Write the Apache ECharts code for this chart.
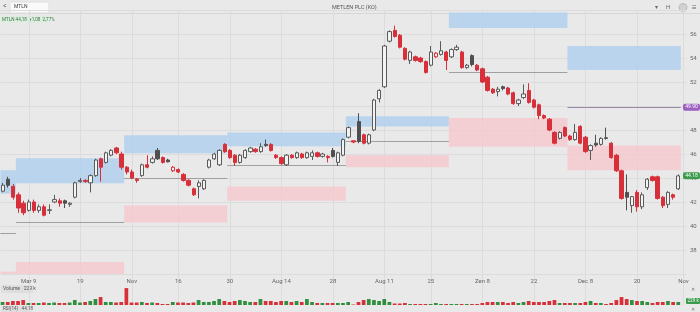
<!DOCTYPE html>
<html><head><meta charset="utf-8">
<script src="https://cdn.jsdelivr.net/npm/echarts@6/dist/echarts.min.js"></script>
<style>html,body{margin:0;padding:0;background:#e9e9e9}#c{width:700px;height:312px}</style>
</head><body><div id="c"></div>
<script>
const opens  = [42.9,43.9,43.3,42.6,41.9,41.3,42.0,41.3,41.6,41.3,42.0,42.1,42.1,41.8,42.4,43.7,43.8,43.6,44.2,45.6,45.3,45.9,46.5,46.0,44.9,44.5,43.9,44.2,45.1,45.3,46.3,45.7,45.5,44.6,44.7,44.3,43.8,43.1,43.3,43.1,44.9,45.6,45.1,46.8,46.3,45.9,45.3,45.7,46.2,46.4,46.2,46.8,46.8,45.9,45.7,45.1,45.9,45.7,46.0,45.7,45.8,46.1,45.8,45.8,46.3,45.3,45.9,47.4,47.1,48.7,47.6,46.9,48.0,50.6,51.6,55.4,56.3,55.9,54.8,53.8,54.1,54.0,53.7,53.4,54.1,54.3,54.5,54.1,54.7,54.5,53.2,54.2,53.4,53.1,52.4,51.4,51.2,51.6,51.5,51.1,50.2,50.7,51.3,50.5,50.1,49.2,48.9,47.8,47.3,48.2,47.5,47.2,48.3,47.4,46.3,46.9,46.8,47.35,46.9,45.9,44.6,42.8,41.7,42.8,41.6,43.2,44.1,44.1,42.4,41.8,42.6,43.1];
const closes = [43.4,43.4,42.4,41.5,41.1,42.0,41.3,41.6,40.9,41.35,42.2,41.9,41.9,41.9,43.6,43.8,43.7,44.2,45.5,44.9,46.1,46.3,46.1,44.9,44.5,44.0,43.8,45.1,44.9,45.6,45.6,45.3,45.35,44.9,44.5,43.8,43.4,42.6,43.6,43.8,45.5,46.0,46.3,46.2,45.7,45.3,45.9,46.3,46.5,46.2,46.6,46.7,46.3,45.7,45.2,45.9,45.7,46.1,45.7,46.1,46.1,45.8,46.0,45.7,45.8,46.1,47.2,48.2,47.0,47.05,46.9,47.6,50.5,51.3,55.0,56.2,55.8,54.9,53.9,54.5,53.8,53.7,52.8,54.5,54.4,54.6,53.8,54.7,54.9,53.2,53.4,53.45,53.0,52.0,51.3,51.1,51.4,51.45,51.0,50.2,50.5,51.0,50.3,49.9,49.2,49.0,48.0,46.9,47.8,47.5,47.2,47.8,46.9,46.2,46.7,46.75,47.3,47.3,45.7,44.6,42.3,42.4,42.45,41.6,42.6,43.9,43.8,42.3,41.7,42.8,42.4,44.18];
const highs  = [43.6,44.1,43.5,42.8,42.1,42.2,42.2,41.8,41.8,41.8,42.6,42.3,42.2,42.0,43.7,44.0,43.9,44.3,45.6,45.7,46.2,46.4,46.6,46.2,45.0,44.7,44.0,45.2,45.9,45.8,46.5,45.8,45.6,45.0,44.8,44.4,43.9,43.2,43.8,43.9,45.6,46.1,46.4,46.9,46.4,46.0,46.0,46.4,46.6,46.5,46.9,47.2,46.9,46.0,45.8,46.0,46.0,46.2,46.1,46.2,46.3,46.2,46.1,45.9,46.5,46.2,47.3,48.3,47.1,49.4,47.7,47.7,50.6,51.4,55.1,56.3,56.7,56.0,54.9,54.6,54.2,54.1,53.8,55.0,54.5,55.4,54.6,54.8,55.1,54.6,53.5,54.3,53.5,53.2,52.5,51.5,51.6,51.7,51.6,51.2,50.6,51.8,51.9,50.6,50.2,49.3,49.0,47.9,47.9,48.3,47.6,48.5,48.4,47.5,46.8,47.6,47.4,48.2,47.0,46.0,44.7,44.3,42.5,43.0,42.8,44.0,44.2,44.2,42.5,42.9,42.7,44.3];
const lows   = [42.8,43.2,42.2,41.1,40.9,41.2,41.1,41.1,40.8,41.0,41.9,41.6,41.5,41.6,42.3,43.6,43.6,42.8,44.1,43.7,45.2,45.8,46.0,44.7,44.3,43.9,43.6,44.1,44.8,45.2,45.5,45.2,45.3,44.5,44.4,43.7,43.3,42.5,42.3,43.0,44.8,45.5,45.0,46.1,45.6,45.0,45.2,45.6,46.1,46.1,46.1,46.6,46.2,45.6,45.1,45.0,45.6,45.6,45.6,45.6,45.5,45.7,45.7,45.3,45.7,45.0,45.8,47.3,46.9,46.9,46.8,46.8,47.9,50.3,51.5,55.3,55.7,54.8,53.8,53.5,53.7,53.6,52.7,53.3,54.0,54.2,53.0,54.0,54.6,53.1,53.1,53.3,52.9,51.9,51.2,51.0,50.8,51.3,50.9,50.1,50.0,50.6,50.2,49.8,48.9,48.9,47.9,46.8,47.2,47.4,47.1,47.1,46.8,46.1,45.5,46.6,46.7,47.2,45.6,44.5,42.2,41.3,41.1,41.2,41.4,43.0,43.7,42.2,41.5,41.5,42.2,43.0];
const volumesK = [228,228,304,304,380,152,152,152,190,152,190,152,152,190,380,190,228,304,456,608,228,228,190,228,1292,190,190,228,152,190,152,76,76,228,190,190,152,190,380,228,228,304,456,304,228,304,380,304,228,228,456,304,304,228,304,304,228,304,228,456,228,152,152,152,152,152,152,228,38,228,380,456,380,304,456,228,114,114,152,76,76,76,76,76,152,76,76,76,76,76,76,76,76,152,228,228,228,228,152,228,152,228,304,228,228,228,304,380,152,152,152,152,152,228,304,152,152,76,152,380,608,456,380,304,304,228,152,228,228,304,228,229];
const tickIndex  = [5,15,25,34,44,54,64,74,83,93,103,113,123,132];
const tickLabels = ['Mar 9','19','Nov','16','30','Aug 14','28','Aug 11','25','Zen 8','22','Dec 8','20','Nov'];
// zones: [startIdx, endIdx, low, high]
const blueZones = [[0,2,42.7,44.65],[3,23,43.56,45.65],[24,43,46.07,47.57],[44,66,46.65,47.8],[67,86,48.3,49.15],[87,109,56.5,57.8],[110,131,53.0,55.0]];
const redZones  = [[0,2,35.9,36.2],[3,23,35.9,37.0],[24,43,40.3,41.7],[44,66,42.1,43.3],[67,86,44.9,45.9],[87,109,46.6,49.0],[110,131,44.65,46.7]];
const levels    = [[0,2,39.4],[3,23,40.3],[24,43,44.0],[44,66,45.07],[67,86,47.1],[87,109,52.8]];
const pivotLevel = [110,131,49.9];
const nCats = 133;

const RED='#d7303a', DARK='#4f4f4f', HOLLOW='#f3f3f3', GRAY='#5a5a5a', GREEN='#2f8f3f';
const categories = Array.from({length:nCats},(_,i)=>{const k=tickIndex.indexOf(i);return k>=0?tickLabels[k]:'';});

const candleData = opens.map((o,i)=>{
  const c=closes[i], pc=i>0?closes[i-1]:o, down=c<pc;
  let fill,border;
  if(c>=o){fill=HOLLOW;border=down?RED:GRAY;} else {fill=down?RED:DARK;border=fill;}
  return {value:[o,c,lows[i],highs[i]],itemStyle:{color:fill,color0:fill,borderColor:border,borderColor0:border,borderWidth:1}};
});
const volData = volumesK.map((v,i)=>({value:v,itemStyle:{color:closes[i]>=opens[i]?GREEN:RED}}));
const last = closes[closes.length-1];

function zoneSeries(data,color){
  return {type:'custom',xAxisIndex:0,yAxisIndex:0,clip:true,silent:true,z:1,data:data,
    renderItem:(params,api)=>{
      const p1=api.coord([api.value(0),api.value(3)]),p2=api.coord([api.value(1),api.value(2)]);
      const bw=api.size([1,0])[0];
      return {type:'rect',shape:{x:p1[0]-bw/2,y:p1[1],width:p2[0]-p1[0]+bw,height:p2[1]-p1[1]},style:{fill:color}};
    }};
}
function levelSeries(data,color){
  return {type:'custom',xAxisIndex:0,yAxisIndex:0,clip:true,silent:true,z:2,data:data,
    renderItem:(params,api)=>{
      const p1=api.coord([api.value(0),api.value(2)]),p2=api.coord([api.value(1),api.value(2)]);
      const bw=api.size([1,0])[0];
      return {type:'line',shape:{x1:p1[0]-bw/2,y1:Math.round(p1[1])+0.5,x2:p2[0]+bw/2,y2:Math.round(p2[1])+0.5},style:{stroke:color,lineWidth:1}};
    }};
}
function priceTag(value,bg){
  return {type:'custom',xAxisIndex:0,yAxisIndex:0,silent:true,z:10,data:[[0,value]],
    renderItem:(params,api)=>{
      const y=api.coord([0,api.value(1)])[1], cs=params.coordSys;
      return {type:'group',children:[
        {type:'rect',shape:{x:cs.x+cs.width-3,y:y-3.5,width:17,height:7,r:2},style:{fill:bg}},
        {type:'text',style:{x:cs.x+cs.width+5.5,y:y,text:api.value(1).toFixed(2),fill:'#fff',fontSize:5,fontFamily:FONT,align:'center',verticalAlign:'middle'}}
      ]};
    }};
}

const chart = echarts.init(document.getElementById('c'),null,{renderer:'canvas'});
const FONT='Roboto';
chart.setOption({
  animation:false,
  backgroundColor:'#e9e9e9',
  textStyle:{fontFamily:FONT},
  grid:[{left:0,top:10,width:686,height:264},{left:0,top:288,width:686,height:17}],
  xAxis:[
    {type:'category',gridIndex:0,data:categories,boundaryGap:true,axisLine:{show:false},axisTick:{show:false},
     axisLabel:{interval:0,fontSize:6,color:'#666',margin:4},splitLine:{show:false}},
    {type:'category',gridIndex:1,data:categories,boundaryGap:true,axisLine:{show:false},axisTick:{show:false},axisLabel:{show:false},splitLine:{show:false}}
  ],
  yAxis:[
    {type:'value',gridIndex:0,position:'right',min:36,max:58,interval:2,axisLine:{show:false},axisTick:{show:false},
     axisLabel:{fontSize:6,color:'#666',margin:4,showMinLabel:false,showMaxLabel:false},
     splitLine:{lineStyle:{color:'#dcdcdc',width:1}}},
    {type:'value',gridIndex:1,min:0,max:1300,show:false}
  ],
  series:[
    {type:'custom',xAxisIndex:0,yAxisIndex:0,silent:true,z:0,data:tickIndex.map(i=>[i,40]),
     renderItem:(params,api)=>{
       const x=Math.round(api.coord([api.value(0),40])[0])+0.5, cs=params.coordSys;
       return {type:'line',shape:{x1:x,y1:cs.y,x2:x,y2:cs.y+cs.height+31},style:{stroke:'#dcdcdc',lineWidth:1}};
     }},
    zoneSeries(blueZones,'rgba(178,208,238,0.85)'),
    zoneSeries(redZones,'rgba(245,200,205,0.8)'),
    levelSeries(levels,'#a0a0a0'),
    levelSeries([pivotLevel],'#9a86a6'),
    {type:'candlestick',xAxisIndex:0,yAxisIndex:0,z:5,barWidth:3.8,data:candleData},
    priceTag(last,'#3c9a4c'),
    priceTag(pivotLevel[2],'#9c5fc2'),
    {type:'bar',xAxisIndex:1,yAxisIndex:1,barWidth:'72%',data:volData}
  ],
  graphic:[
    {type:'line',shape:{x1:0,y1:13.5,x2:700,y2:13.5},style:{stroke:'#d6d6d6'},silent:true},
    {type:'text',left:3,top:3,style:{text:'<',fontSize:7,fill:'#666',fontFamily:FONT}},
    {type:'rect',shape:{x:10,y:2,width:39,height:11,r:1},style:{fill:'#fafafa',stroke:'#dedede'}},
    {type:'text',left:14,top:4.5,style:{text:'MTLN',fontSize:5,fill:'#444',fontFamily:FONT}},
    {type:'text',left:332,top:5,style:{text:'METLEN PLC (KO)',fontSize:5.5,fill:'#555',fontFamily:FONT}},
    {type:'text',left:655,top:4,style:{text:'▾',fontSize:6,fill:'#666'}},
    {type:'text',left:666,top:4,style:{text:'H',fontSize:6,fill:'#666',fontFamily:FONT}},
    {type:'circle',shape:{cx:683,cy:7.5,r:4},style:{fill:'#d2d2d2',stroke:'#bbb'}},
    {type:'text',left:692,top:3.5,style:{text:'≡',fontSize:8,fill:'#666'}},
    {type:'rect',shape:{x:1,y:16,width:50,height:7},style:{fill:'#e0ece2'}},
    {type:'text',left:2,top:17,style:{text:'MTLN 44,18  +1,08  2,77%',fontSize:4.6,fill:'#2f7f3f',fontFamily:FONT}},
    {type:'rect',shape:{x:1,y:285,width:32,height:8},style:{fill:'#dedede'}},
    {type:'text',left:3,top:286.5,style:{text:'Volume   '+volumesK[volumesK.length-1]+' k',fontSize:5,fill:'#555',fontFamily:FONT}},
    {type:'rect',shape:{x:686,y:298,width:14,height:6,r:1},style:{fill:'#3c9a4c'}},
    {type:'text',left:687.5,top:298.5,style:{text:volumesK[volumesK.length-1]+' k',fontSize:4.6,fill:'#fff',fontFamily:FONT}},
    {type:'text',left:691,top:287,style:{text:'✕',fontSize:5,fill:'#777'}},
    {type:'text',left:691,top:307,style:{text:'✕',fontSize:5,fill:'#777'}},
    {type:'rect',shape:{x:1,y:306,width:30,height:6},style:{fill:'#dedede'}},
    {type:'text',left:3,top:306.5,style:{text:'RSI(14)   44.18',fontSize:4.6,fill:'#555',fontFamily:FONT}}
  ]
});
</script></body></html>
